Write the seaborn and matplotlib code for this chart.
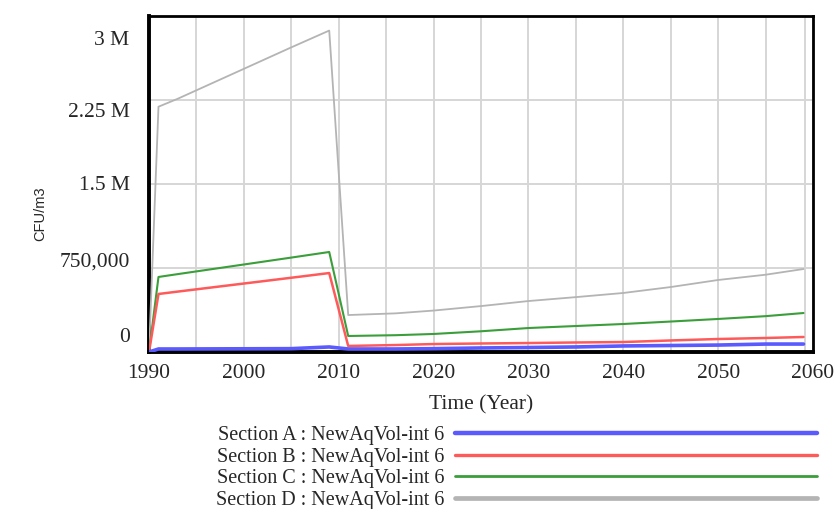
import numpy as np
import pandas as pd
import seaborn as sns
from matplotlib import pyplot as plt
from matplotlib.transforms import ScaledTranslation
from matplotlib.lines import Line2D

# datos (CFU/m3 por año)
years = [1990, 1991, 1993, 2005, 2009, 2011, 2016, 2020, 2025, 2030, 2035, 2040, 2045, 2050, 2055, 2059]
section_a = [0, 27e3, 27e3, 30e3, 45e3, 27e3, 27e3, 30e3, 36e3, 40e3, 45e3, 54e3, 58e3, 62e3, 71e3, 71e3]
section_b = [0, 518e3, 539e3, 663e3, 705e3, 54e3, 62e3, 71e3, 76e3, 80e3, 85e3, 89e3, 103e3, 116e3, 125e3, 134e3]
section_c = [0, 670e3, 695e3, 843e3, 893e3, 143e3, 150e3, 161e3, 185e3, 214e3, 232e3, 250e3, 272e3, 295e3, 320e3, 348e3]
section_d = [0, 2.19e6, 2.26e6, 2.72e6, 2.87e6, 330e3, 345e3, 370e3, 410e3, 455e3, 490e3, 527e3, 580e3, 643e3, 690e3, 741e3]

series_names = ["Section A : NewAqVol-int 6", "Section B : NewAqVol-int 6",
                "Section C : NewAqVol-int 6", "Section D : NewAqVol-int 6"]
colors = ["#5a5aff", "#ff5a5a", "#3a9e3a", "#b4b4b4"]
widths = [2.6, 1.8, 1.5, 1.3]
legend_widths = [3.2, 2.4, 2.0, 3.4]

yticks = [0, 750000, 1500000, 2250000, 3000000]
ytick_labels = ["0", "750,000", "1.5 M", "2.25 M", "3 M"]
xticks = [1990, 2000, 2010, 2020, 2030, 2040, 2050, 2060]

df = pd.DataFrame({"year": years, "A": section_a, "B": section_b, "C": section_c, "D": section_d})

sns.set_style("white")
plt.rcParams['font.family'] = ['Liberation Serif', 'DejaVu Serif']

fig = plt.figure(figsize=(8.38, 5.09), dpi=100)
ax = fig.add_axes([149/838, 1 - 352/509, 664/838, 336/509])

# grilla
for x in range(1990, 2061, 5):
    ax.axvline(x, color="#d6d6d6", lw=1.4, zorder=0)
ax.axvline(2059.2, color="#d6d6d6", lw=1.4, zorder=0)
for y in yticks:
    ax.axhline(y, color="#d6d6d6", lw=1.4, zorder=0)

for col, c, w in zip(["D", "C", "B", "A"], colors[::-1], widths[::-1]):
    sns.lineplot(data=df, x="year", y=col, color=c, lw=w, ax=ax, zorder=3)

ax.set_xlim(1990, 2060)
ax.set_ylim(0, 3000000)
ax.set_xticks(xticks)
ax.set_xticklabels([str(x) for x in xticks], fontsize=15.5)
ax.set_yticks(yticks)
ax.set_yticklabels(ytick_labels, fontsize=15.5)
ax.tick_params(axis="x", length=0, pad=9)
ax.tick_params(axis="y", length=0, pad=14)

# etiquetas del eje y desplazadas como en el original
offsets = [12, 6, 1, -7, -16]
for lab, off in zip(ax.get_yticklabels(), offsets):
    lab.set_transform(lab.get_transform() + ScaledTranslation(0, off / 72, fig.dpi_scale_trans))

for s in ax.spines.values():
    s.set_color("black")
    s.set_linewidth(2)
ax.spines["left"].set_linewidth(2.8)
ax.spines["bottom"].set_linewidth(2.8)

ax.set_xlabel("")
ax.set_ylabel("")
fig.text(481/838, 1 - 405/509, "Time (Year)", ha="center", va="center", fontsize=15.5)
fig.text(40/838, 1 - 214/509, "CFU/m3", rotation=90, ha="center", va="center",
         fontsize=10.5, family=["Liberation Sans", "DejaVu Sans"])

handles = [Line2D([0], [0], color=c, lw=w) for c, w in zip(colors, legend_widths)]
fig.legend(handles, series_names, loc="upper left", bbox_to_anchor=(206/838, 1 - 416/509),
           frameon=False, markerfirst=False, handlelength=18, handletextpad=0.5,
           labelspacing=0.12, fontsize=14.5, borderpad=0)

fig.savefig("out.png", dpi=100)
